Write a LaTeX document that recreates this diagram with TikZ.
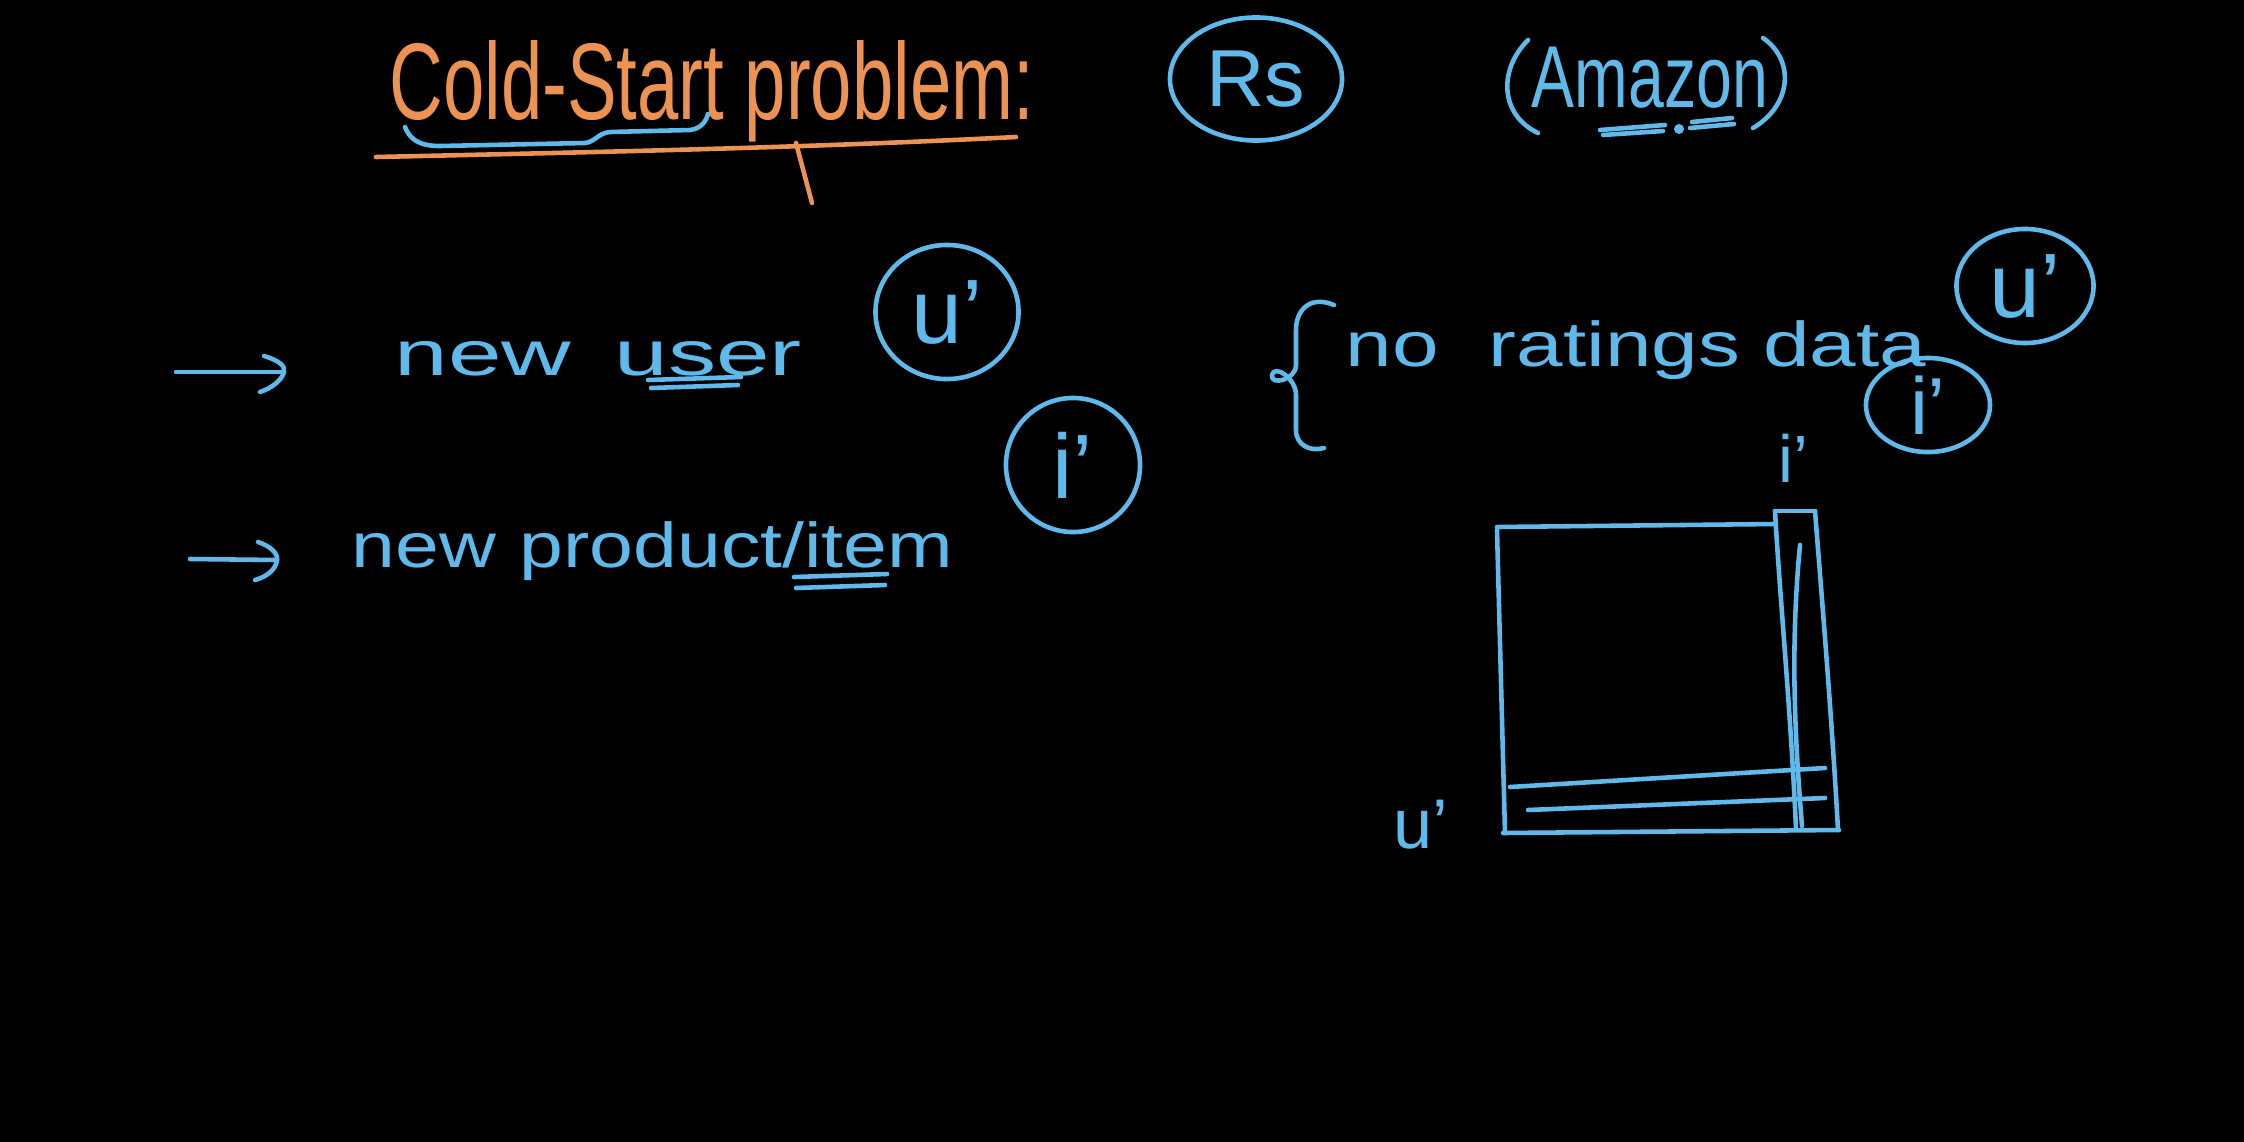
\documentclass[tikz,border=0pt]{standalone}
\usepackage{fontspec}
\setmainfont{Liberation Sans}
\usepackage{graphicx}
\usetikzlibrary{shapes.geometric}
\definecolor{chalkblue}{RGB}{95,185,235}
\definecolor{chalkorange}{RGB}{236,146,82}
\newcommand{\fitw}[2]{\resizebox{#1}{\height}{#2}}
\begin{document}
\begin{tikzpicture}[x=0.01cm,y=-0.01cm,
  bl/.style={draw=chalkblue, line width=1.3pt, line cap=round, line join=round},
  og/.style={draw=chalkorange, line width=1.3pt, line cap=round},
  txt/.style={text=chalkblue, inner sep=0pt, anchor=base west, font=\fontsize{18}{22}\selectfont},
  ring/.style={ellipse, draw=chalkblue, line width=1.3pt, text=chalkblue, inner sep=0pt, font=\fontsize{26}{30}\selectfont}]
\fill[black] (0,0) rectangle (2244,1142);
\useasboundingbox (0,0) rectangle (2244,1142);

% title
\node[txt, text=chalkorange, font=\fontsize{31}{36}\selectfont] (title) at (389,119) {\fitw{6.44cm}{Cold-Start problem:}};
\draw[og] (376,157) .. controls (600,152) and (800,148) .. (1016,137);
\draw[og] (796,143) -- (812,203);
\draw[bl] (405,127) .. controls (410,140) and (420,146) .. (440,146) -- (585,143) .. controls (595,142) and (598,133) .. (610,132) -- (690,130) .. controls (700,129) and (706,122) .. (708,114);

% Rs
\node[ring, font=\fontsize{23}{28}\selectfont, minimum width=1.72cm, minimum height=1.23cm] (rs) at (1256,79) {Rs};

% Amazon
\node[txt, font=\fontsize{25}{30}\selectfont] (amz) at (1531,107) {\fitw{2.36cm}{Amazon}};
\draw[bl] (1528,40) .. controls (1498,70) and (1500,115) .. (1538,133);
\draw[bl] (1763,38) .. controls (1795,60) and (1792,105) .. (1753,128);
\draw[bl] (1600,130) -- (1665,125);
\draw[bl] (1603,135) -- (1663,131);
\fill[chalkblue] (1679,129) circle (5);
\draw[bl] (1690,128) -- (1734,124);
\draw[bl] (1692,122) -- (1732,118);

% arrow 1
\coordinate (a1s) at (176,372);
\coordinate (a1e) at (284,372);
\draw[bl] (a1s) -- (a1e);
\draw[bl] (264,356) .. controls (278,360) and (286,366) .. (a1e) .. controls (282,380) and (272,388) .. (260,392);
\node[txt] (nu) at (394,375) {\fitw{4.07cm}{new\hspace{0.45em}user}};
\draw[bl] (648,380) -- (741,377);
\draw[bl] (651,388) -- (738,385);
\node[ring, minimum width=1.43cm, minimum height=1.34cm] (u1) at (947,312) {u'};

% arrow 2
\coordinate (a2s) at (190,559);
\coordinate (a2e) at (277,560);
\draw[bl] (a2s) -- (a2e);
\draw[bl] (258,542) .. controls (270,546) and (278,553) .. (a2e) .. controls (276,570) and (266,577) .. (255,580);
\node[txt] (np) at (351,567) {\fitw{6.01cm}{new\hspace{0.3em}product/item}};
\draw[bl] (794,577) -- (887,574);
\draw[bl] (796,588) -- (885,585);
\node[ring, minimum width=1.34cm, minimum height=1.34cm] (i1) at (1073,465) {i'};

% brace and no ratings data
\draw[bl] (1334,305) .. controls (1310,295) and (1296,310) .. (1296,330) -- (1296,365) .. controls (1296,380) and (1270,386) .. (1272,375) .. controls (1274,364) and (1296,378) .. (1296,395) -- (1296,430) .. controls (1296,445) and (1310,452) .. (1324,448);
\node[txt] (nr) at (1345,366) {\fitw{5.80cm}{no\hspace{0.6em}ratings data}};
\node[ring, minimum width=1.37cm, minimum height=1.14cm] (u2) at (2025,286) {u'};
\node[ring, font=\fontsize{23}{28}\selectfont, minimum width=1.24cm, minimum height=0.94cm] (i2) at (1928,405) {i'};

% matrix
\draw[bl] (1497,530) -- (1505,833);
\draw[bl] (1497,527) -- (1775,524);
\draw[bl] (1775,511) -- (1815,511);
\draw[bl] (1775,511) .. controls (1780,600) and (1790,700) .. (1796,828);
\draw[bl] (1815,511) .. controls (1822,600) and (1832,720) .. (1838,830);
\draw[bl] (1800,545) .. controls (1790,650) and (1795,740) .. (1802,826);
\draw[bl] (1510,787) -- (1825,768);
\draw[bl] (1528,810) -- (1825,798);
\draw[bl] (1503,833) -- (1839,830);
\node[txt, anchor=center, font=\fontsize{19}{23}\selectfont] (ilab) at (1793,458) {i'};
\node[txt, anchor=center, font=\fontsize{20}{24}\selectfont] (ulab) at (1421,825) {u'};
\end{tikzpicture}
\end{document}
